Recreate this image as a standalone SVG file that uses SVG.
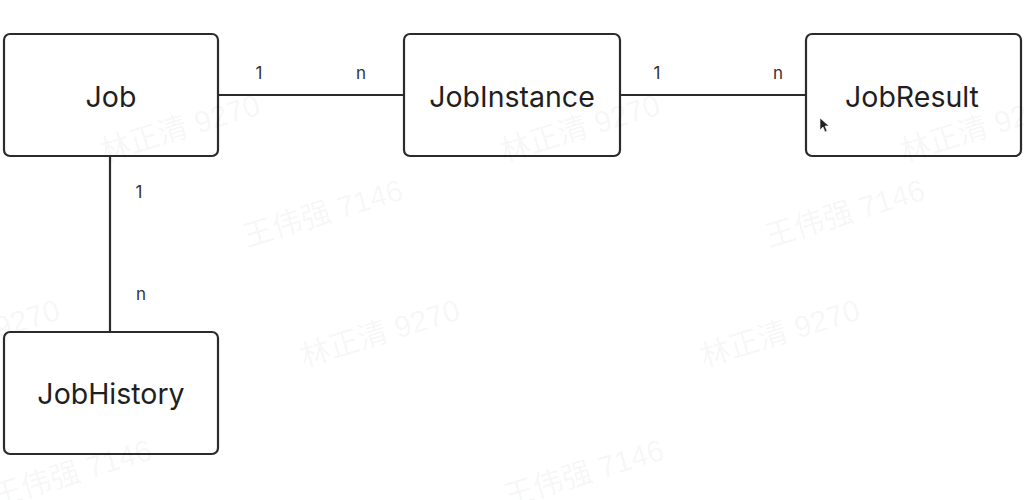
<svg xmlns="http://www.w3.org/2000/svg" width="1024" height="500" viewBox="0 0 1024 500">
<style>
.box{fill:#fff;stroke:#2b2b2b;stroke-width:2.2}
.name{font-family:Inter,"Liberation Sans",sans-serif;font-size:28.5px;fill:#1f1f1f;text-anchor:middle;dominant-baseline:central}
.card{font-family:Inter,"Liberation Sans",sans-serif;font-size:17px;fill:#333;text-anchor:middle}
.wm{font-family:"Liberation Sans","Noto Sans CJK SC",sans-serif;font-size:30px;fill:#000;fill-opacity:0.055;text-anchor:middle}
.conn line{stroke:#2b2b2b;stroke-width:2.2}
</style>
<rect width="1024" height="500" fill="#fff"/>
<g id="connectors" class="conn">
<line x1="218" y1="95" x2="404" y2="95"/>
<line x1="620" y1="95" x2="806" y2="95"/>
<line x1="110" y1="156" x2="110" y2="332"/>
<text class="card" x="259" y="79">1</text>
<text class="card" x="361" y="79">n</text>
<text class="card" x="657" y="79">1</text>
<text class="card" x="778" y="79">n</text>
<text class="card" x="139" y="198">1</text>
<text class="card" x="141" y="300">n</text>
</g>
<g id="job"><rect class="box" x="4" y="34" width="214" height="122" rx="6"/><text class="name" x="111" y="96">Job</text></g>
<g id="jobinstance"><rect class="box" x="404" y="34" width="216" height="122" rx="6"/><text class="name" x="512" y="96">JobInstance</text></g>
<g id="jobresult"><rect class="box" x="806" y="34" width="215" height="122" rx="6"/><text class="name" x="912" y="96">JobResult</text></g>
<g id="jobhistory"><rect class="box" x="4" y="332" width="214" height="122" rx="6"/><text class="name" x="111" y="393">JobHistory</text></g>
<g id="watermarks">
<text class="wm" transform="translate(183,138) rotate(-17)">林正清 9270</text>
<text class="wm" transform="translate(583,138) rotate(-17)">林正清 9270</text>
<text class="wm" transform="translate(983,138) rotate(-17)">林正清 9270</text>
<text class="wm" transform="translate(383,343) rotate(-17)">林正清 9270</text>
<text class="wm" transform="translate(783,343) rotate(-17)">林正清 9270</text>
<text class="wm" transform="translate(-17,343) rotate(-17)">林正清 9270</text>
<text class="wm" transform="translate(326,223) rotate(-17)">王伟强 7146</text>
<text class="wm" transform="translate(848,223) rotate(-17)">王伟强 7146</text>
<text class="wm" transform="translate(75,483) rotate(-17)">王伟强 7146</text>
<text class="wm" transform="translate(587,483) rotate(-17)">王伟强 7146</text>
</g>
<path d="M820 118 L820 130 L823 127 L825 132 L827 131 L825 126 L829 126 Z" fill="#222" stroke="#fff" stroke-width="0.6"/>
</svg>
